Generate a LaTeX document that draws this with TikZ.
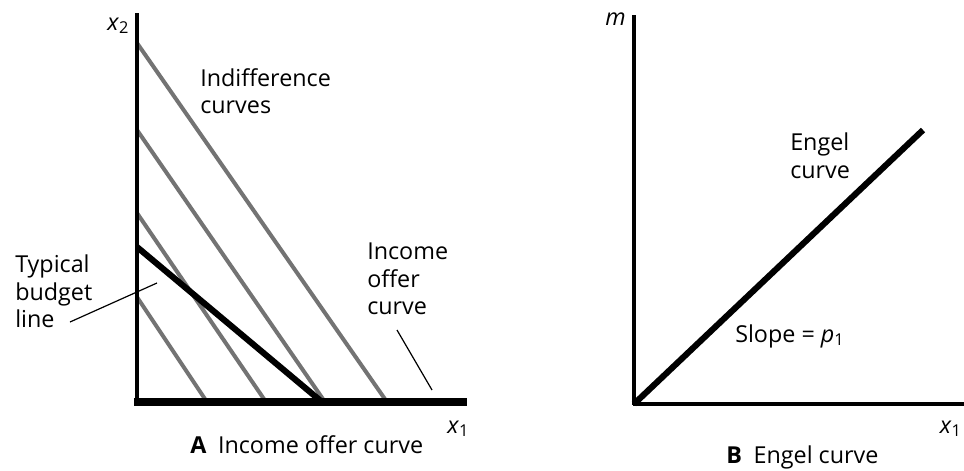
\documentclass[tikz,border=0pt]{standalone}
\usepackage{fontspec}
\setmainfont{Open Sans}
\begin{document}
\begin{tikzpicture}[x=0.75pt,y=-0.75pt,
  lbl/.style={inner sep=0pt,font=\fontsize{17.5}{20.5}\selectfont,align=left},
  axis/.style={line width=2.6pt,black},
  indiff/.style={line width=3pt,black!55},
  budget/.style={line width=4.6pt,black},
  offer/.style={line width=6pt,black},
  engel/.style={line width=4.6pt,black},
  pointer/.style={line width=0.9pt,black}]
\useasboundingbox (0,0) rectangle (964,471);
% ---------- Panel A ----------
\coordinate (Ao) at (137,402);
\coordinate (Atop) at (137,13);
\coordinate (Aend) at (467,402);
% indifference lines
\coordinate (i1a) at (137,43);  \coordinate (i1b) at (387,402);
\coordinate (i2a) at (137,130); \coordinate (i2b) at (325,402);
\coordinate (i3a) at (137,213); \coordinate (i3b) at (266,402);
\coordinate (i4a) at (137,297); \coordinate (i4b) at (207,402);
\draw[indiff] (i1a) -- (i1b);
\draw[indiff] (i2a) -- (i2b);
\draw[indiff] (i3a) -- (i3b);
\draw[indiff] (i4a) -- (i4b);
% budget line
\coordinate (ba) at (137,247); \coordinate (bb) at (322,402);
\draw[budget] (ba) -- (bb);
% axes
\draw[axis] (Atop) -- (137,405);
\draw[offer] (134,402) -- (Aend);
% labels
\node[lbl,anchor=base west] (x2) at (107,30) {\textit{x}\textsubscript{2}};
\node[lbl,anchor=base west] (x1a) at (447,433) {\textit{x}\textsubscript{1}};
\node[lbl,anchor=north west] (indl) at (200,68) {Indifference\\curves};
\node[lbl,anchor=north west] (incl) at (367,243) {Income\\offer\\curve};
\node[lbl,anchor=north west] (typl) at (15,255) {Typical\\budget\\line};
\coordinate (tp1) at (70,322); \coordinate (tp2) at (157,283);
\draw[pointer] (tp1) -- (tp2);
\coordinate (ip1) at (397,330); \coordinate (ip2) at (432,390);
\draw[pointer] (ip1) -- (ip2);
\node[lbl,anchor=base west] (capA) at (190,453) {\textbf{A}\enspace Income offer curve};
% ---------- Panel B ----------
\coordinate (Bo) at (634,404);
\coordinate (Btop) at (634,15);
\coordinate (Bend) at (966,404);
\coordinate (Etop) at (923,130);
\draw[engel] (Bo) -- (Etop);
\draw[axis] (Btop) -- (634,405.3);
\draw[axis] (632.7,404) -- (Bend);
\node[lbl,anchor=base west] (m) at (605,25) {\textit{m}};
\node[lbl,anchor=base east] (x1b) at (962,433) {\textit{x}\textsubscript{1}};
\node[lbl,anchor=north west] (engl) at (790,133) {Engel\\curve};
\node[lbl,anchor=base west] (slope) at (735,342) {Slope = \textit{p}\textsubscript{1}};
\node[lbl,anchor=base west] (capB) at (726,463) {\textbf{B}\enspace Engel curve};
\end{tikzpicture}
\end{document}
